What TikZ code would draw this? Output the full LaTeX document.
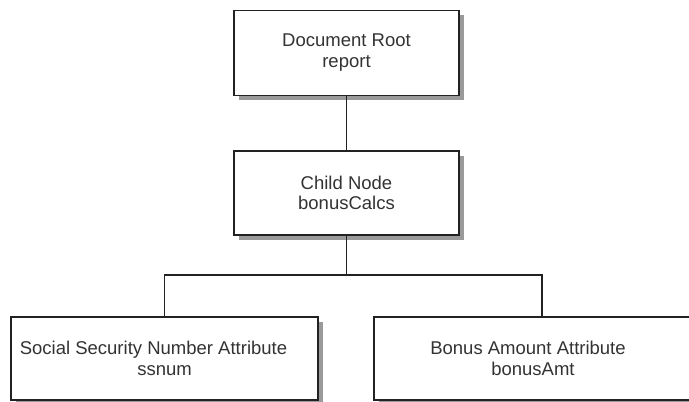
\documentclass[tikz,border=0pt]{standalone}
\usepackage{fontspec}
\setmainfont{Liberation Sans}
\usepackage{tikz}
\usetikzlibrary{shadows}
\definecolor{ink}{HTML}{222222}
\definecolor{label}{HTML}{333333}
\definecolor{shade}{HTML}{9A9A9A}
\tikzset{
  treeBox/.style={draw=ink, line width=1.3pt, fill=white, align=center, text=label,
    font=\fontsize{18.5}{20.5}\selectfont, inner sep=0pt,
    drop shadow={shadow xshift=5pt, shadow yshift=-5pt, fill=shade, opacity=1}},
  treeLine/.style={draw=ink, line width=1.3pt}
}
\begin{document}
\begin{tikzpicture}[x=1pt, y=-1pt]
  \useasboundingbox (0,0) rectangle (689,402);

  \node[treeBox, minimum width=225pt, minimum height=85pt] (root) at (346.5,52.7)
    {Document Root\\report};
  \node[treeBox, minimum width=225pt, minimum height=84pt] (child) at (346.5,193)
    {Child Node\\bonusCalcs};
  \node[treeBox, minimum width=307pt, minimum height=83pt] (ssn) at (164.5,358.5)
    {Social Security Number Attribute\hspace*{22pt}\\ssnum};
  \node[treeBox, minimum width=336pt, minimum height=83pt] (bonus) at (542,358.5)
    {Bonus Amount Attribute\hspace*{28pt}\\bonusAmt\hspace*{18pt}};

  \coordinate (split) at (346.5,275);

  \draw[treeLine] (root) -- (child);
  \draw[treeLine] (child.south) -- (split);
  \draw[treeLine] (split) -| (ssn.north);
  \draw[treeLine] (split) -| (bonus.north);
\end{tikzpicture}
\end{document}
